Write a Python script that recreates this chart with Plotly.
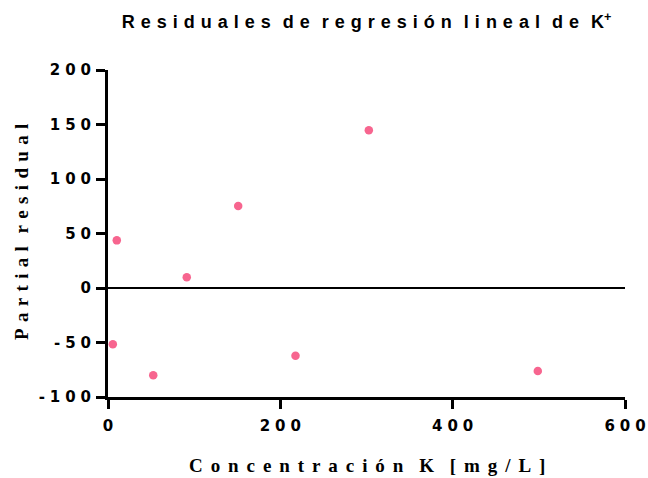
import plotly.graph_objects as go

# Partial residuals of the linear regression for K+
concentracion_k = [10.2, 91.4, 151.1, 302.7, 5.6, 52.5, 217.6, 498.8]
residual_parcial = [43.7, 9.8, 75.2, 144.8, -51.6, -80.1, -62.2, -76.1]

x_ticks = [0, 200, 400, 600]
y_ticks = [-100, -50, 0, 50, 100, 150, 200]

THREE_PER_EM = "\u2004"
HAIR = "\u200a"


def spaced(text, sep):
    """Spread characters apart to mimic tracked lettering."""
    words = text.split(" ")
    return (sep * 2).join(sep.join(w) for w in words)


def tick_text(v):
    return THREE_PER_EM.join(str(v))


title_txt = spaced("Residuales de regresión lineal de K", THREE_PER_EM) + "<sup>+</sup>"
x_title = spaced("Concentración K [mg/L]", THREE_PER_EM + HAIR)
y_title = spaced("Partial residual", THREE_PER_EM)

serif_bold = dict(family="Liberation Serif, Times New Roman", size=19, color="black", weight="bold")

fig = go.Figure(
    go.Scatter(
        x=concentracion_k,
        y=residual_parcial,
        mode="markers",
        marker=dict(size=8.5, color="#F7658F", line=dict(width=0)),
        showlegend=False,
    )
)

axis_common = dict(
    showline=True,
    linecolor="black",
    linewidth=3,
    ticks="outside",
    ticklen=9,
    tickwidth=3,
    tickcolor="black",
    showgrid=False,
    automargin=False,
    tickfont=dict(family="DejaVu Sans", size=15, color="black", weight="bold"),
)

fig.update_xaxes(
    range=[0, 600],
    tickvals=x_ticks,
    ticktext=[tick_text(v) for v in x_ticks],
    zeroline=False,
    ticklabelstandoff=4,
    **axis_common,
)
fig.update_yaxes(
    range=[-100, 200],
    tickvals=y_ticks,
    ticktext=[tick_text(v) for v in y_ticks],
    zeroline=True,
    zerolinecolor="black",
    zerolinewidth=1.5,
    ticklabelstandoff=2,
    **axis_common,
)

# Axis titles placed as annotations relative to the plotting area
fig.add_annotation(
    text=x_title, xref="paper", yref="paper", x=0.5, y=-0.208,
    xanchor="center", yanchor="middle", showarrow=False, font=serif_bold,
)
fig.add_annotation(
    text=y_title, xref="paper", yref="paper", x=-0.166, y=0.505,
    xanchor="center", yanchor="middle", textangle=-90, showarrow=False, font=serif_bold,
)

fig.update_layout(
    width=648,
    height=478,
    margin=dict(l=108, r=23, t=70, b=81),
    plot_bgcolor="white",
    paper_bgcolor="white",
    title=dict(
        text=title_txt,
        x=0.5,
        xref="paper",
        xanchor="center",
        y=1 - 22 / 478,
        yref="container",
        yanchor="middle",
        font=dict(family="Liberation Sans, Arial", size=18, color="black", weight="bold"),
    ),
)

fig.write_html("out.html")
